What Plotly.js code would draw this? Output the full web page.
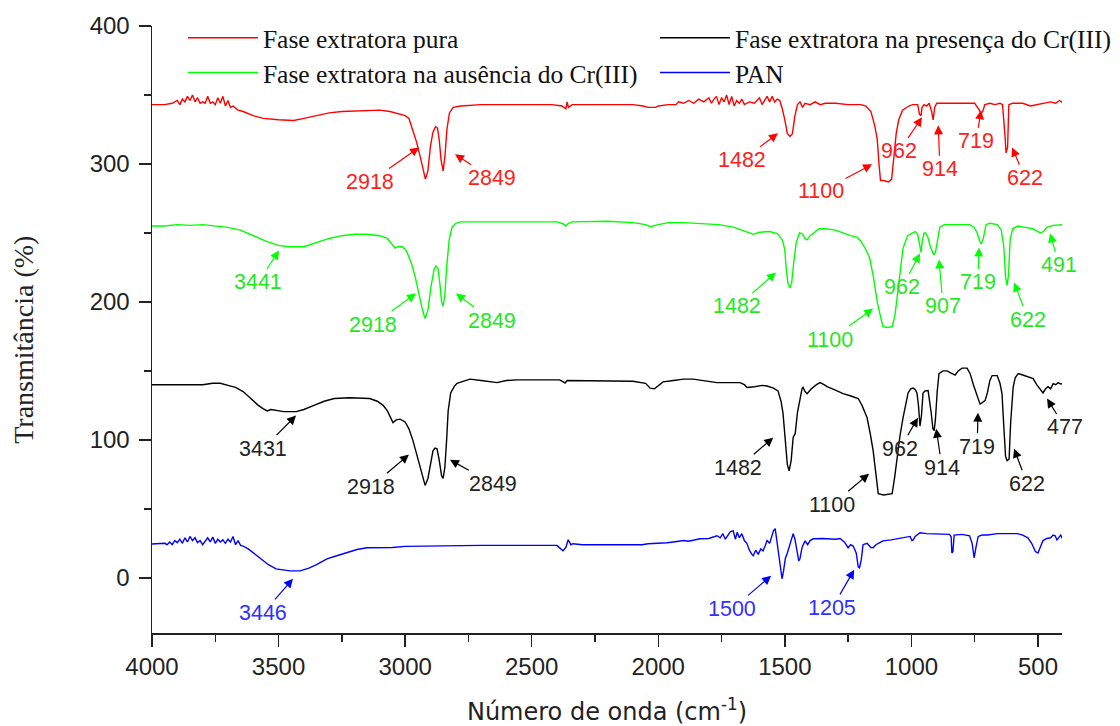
<!DOCTYPE html>
<html><head><meta charset="utf-8">
<script src="https://cdn.plot.ly/plotly-3.0.1.min.js"></script>
<style>html,body{margin:0;padding:0;background:#fff}#chart{width:1120px;height:726px}</style>
</head><body><div id="chart"></div>
<script>
// ---------- DATA ----------
const xTickVals = [4000, 3500, 3000, 2500, 2000, 1500, 1000, 500];
const yTickVals = [0, 100, 200, 300, 400];
const seriesNames = [
  'Fase extratora pura',
  'Fase extratora na presença do Cr(III)',
  'Fase extratora na ausência do Cr(III)',
  'PAN'
];
const xTitle = 'Número de onda (cm<sup>-1</sup>)';
const yTitle = 'Transmitância (%)';
// [wavenumber cm-1, transmittance %]
const redSpectrum = [[4000,343],[3950,343],[3920,344],[3900,346],[3890,343],[3880,347],[3870,345],[3860,349],[3850,346],[3840,350],[3830,345],[3820,348],[3810,344],[3800,345],[3790,344],[3780,349],[3770,344],[3760,345],[3750,343],[3740,348],[3730,344],[3720,349],[3710,342],[3700,346],[3690,341],[3680,342],[3660,339],[3640,338],[3600,335],[3560,333],[3500,332],[3440,331.5],[3400,333],[3350,335],[3300,337],[3250,338],[3200,338.5],[3150,339],[3100,339],[3060,338],[3040,337],[3020,336],[3000,335],[2985,333],[2970,325],[2955,316],[2940,305],[2930,296],[2920,289],[2910,295],[2900,313],[2890,323],[2880,327],[2872,326],[2865,317],[2858,303],[2850,295],[2843,305],[2835,325],[2825,337],[2810,341],[2780,342],[2700,343],[2600,343],[2500,343],[2420,343],[2380,342],[2365,340],[2360,345],[2355,341],[2340,343],[2200,343],[2100,343],[2060,342],[2040,341],[2010,341],[2000,342],[1960,343],[1930,343],[1920,345],[1900,344],[1880,346],[1860,344],[1840,347],[1820,345],[1800,348],[1790,344],[1780,347],[1770,349],[1760,343],[1750,348],[1740,345],[1730,350],[1720,343],[1710,349],[1700,342],[1690,346],[1680,344],[1670,347],[1660,343],[1640,345],[1620,344],[1600,348],[1590,343],[1570,349],[1560,345],[1550,349],[1540,345],[1530,347],[1520,346],[1510,340],[1500,332],[1490,322],[1480,320],[1470,322],[1460,335],[1450,343],[1440,345],[1430,341],[1420,344],[1400,343],[1380,345],[1360,343],[1340,344],[1300,344],[1250,343],[1200,343],[1180,342],[1160,338],[1145,328],[1135,318],[1128,300],[1122,288],[1110,288],[1090,287],[1078,289],[1070,305],[1060,322],[1050,332],[1035,339],[1010,342],[995,343],[975,343],[968,336],[962,335],[958,341],[950,343],[940,342],[930,344],[920,338],[914,332],[908,341],[900,344],[850,344],[800,344],[750,344],[735,340],[725,337],[718,338],[710,343],[690,344],[670,343],[650,344],[640,343],[630,320],[626,308],[620,312],[615,343],[600,344],[560,344],[530,342],[500,343],[470,344],[450,345],[430,344],[415,346],[400,344]];

const blackSpectrum = [[4000,140],[3900,140],[3850,140.5],[3800,140],[3760,141],[3730,141],[3700,139.5],[3670,138],[3640,135],[3610,130],[3580,125],[3560,122.5],[3545,121],[3530,122],[3510,121.5],[3480,120.5],[3430,120.5],[3400,122],[3360,125],[3320,128],[3280,130],[3220,130.5],[3140,130],[3110,128],[3087,125],[3070,121],[3048,112.5],[3035,114.5],[3020,115],[3000,113],[2985,108],[2970,100],[2955,90],[2940,80],[2928,70],[2921,67],[2910,72],[2898,84],[2890,92],[2882,94],[2874,93.5],[2866,86],[2856,74],[2850,72],[2843,80],[2836,100],[2830,121],[2820,134],[2805,139],[2795,141],[2760,143],[2744,144],[2700,143],[2637,141.5],[2600,143],[2560,143.5],[2450,143.5],[2390,143.5],[2375,142],[2368,141.2],[2360,143],[2300,143],[2200,143],[2100,142.5],[2050,141],[2032,137.5],[2015,137],[2000,139],[1981,142],[1940,143],[1900,144],[1862,144],[1820,143],[1768,141.5],[1700,141.5],[1677,141.5],[1660,140],[1649,138],[1620,138.5],[1590,139.5],[1570,139],[1545,137.5],[1527,135.5],[1515,128],[1507,119],[1498,100],[1490,82],[1483,77.6],[1475,85],[1467,102],[1459,104.5],[1450,120],[1440,130.6],[1432,137],[1428,138],[1420,135],[1412,133.5],[1395,137],[1375,140],[1361,141.5],[1345,140],[1333,138.6],[1300,136],[1270,133.5],[1242,132],[1210,130],[1195,125],[1175,116],[1162,104],[1151,92],[1140,75],[1131,61],[1110,60],[1090,60.5],[1076,61],[1066,73],[1057,87],[1045,103],[1033,116],[1020,128],[1013,134],[1003,137],[993,137.5],[985,136.5],[978,134],[972,125],[966,110],[960,118],[954,134],[946,135.5],[934,135.7],[922,120],[915,108],[910,106.7],[905,115],[898,135],[891,148],[875,150],[859,150],[845,148.5],[827,147],[815,150],[800,152],[780,152],[768,148],[755,140],[740,132],[729,126],[720,127],[709,128.4],[700,134],[690,143],[681,146.6],[661,146.6],[650,141],[642,133.5],[635,110],[628,88],[622,85],[614,86],[608,112],[598,138],[590,145],[578,148],[560,147],[540,145.5],[519,144.4],[505,140],[490,136],[480,134],[470,137],[460,138.5],[450,137],[440,140.8],[430,140],[420,141.5],[410,140.5],[400,140.8]];

const greenSpectrum = [[4000,255],[3950,255],[3900,256],[3850,255.5],[3800,256],[3750,255],[3700,254],[3650,252],[3600,248],[3550,244],[3500,241],[3460,240],[3400,240],[3350,243],[3300,246],[3250,248],[3200,249],[3150,249],[3100,248],[3070,246],[3050,241],[3040,239],[3030,240],[3010,240],[2995,237],[2975,228],[2960,218],[2945,205],[2930,193],[2921,188],[2910,194],[2898,211],[2885,224],[2878,226],[2870,224],[2862,212],[2856,200],[2850,197],[2843,205],[2836,225],[2826,245],[2815,254],[2800,257],[2780,258],[2700,258],[2600,258],[2500,258],[2400,258],[2375,256.5],[2365,255],[2355,257],[2340,258],[2200,258.5],[2100,257.5],[2050,256],[2030,254.5],[2000,256],[1960,257.5],[1900,257.5],[1850,257],[1800,256.5],[1760,256],[1700,254],[1660,251],[1640,250],[1625,249],[1600,250.5],[1560,251],[1530,249.5],[1510,245],[1500,238],[1495,225],[1488,214],[1480,210],[1473,214],[1465,228],[1455,243],[1442,250],[1432,249.5],[1420,246],[1412,245],[1400,248],[1385,250],[1365,253],[1340,253],[1300,252],[1270,250],[1240,248],[1215,247],[1200,244],[1180,238],[1165,232],[1150,218],[1135,200],[1124,191],[1112,182],[1095,181.5],[1076,182],[1065,190],[1057,203],[1045,220],[1033,239],[1015,248],[997,250],[985,251],[975,249],[968,243],[962,236],[957,244],[950,250],[944,250],[935,247],[925,240],[912,234],[905,236],[897,245],[888,254],[870,256],[850,256],[820,256],[800,255.5],[770,256],[752,254],[740,250],[730,244],[724,242],[716,246],[705,256],[690,257],[660,256],[645,252],[635,240],[628,218],[622,212],[616,220],[610,245],[600,253],[580,255],[550,254],[520,253],[500,251],[490,250],[478,251],[465,254],[440,255.5],[420,255.5],[400,256]];

const blueSpectrum = [[4000,24.5],[3960,24.5],[3950,25],[3940,24],[3930,26],[3920,24],[3910,27],[3900,25.5],[3890,28],[3880,25],[3870,29],[3860,26],[3850,30],[3840,27],[3830,29],[3820,25.5],[3810,27],[3800,24],[3790,27],[3780,29],[3770,26],[3760,29.5],[3750,25],[3740,28],[3730,26],[3720,27.5],[3710,25],[3700,28],[3690,26],[3680,30],[3670,24],[3660,27],[3650,23.5],[3640,23],[3620,21],[3600,18],[3580,15],[3560,12],[3540,9.5],[3510,6.5],[3480,5.5],[3455,5],[3415,5],[3380,7],[3350,9.5],[3309,13.8],[3270,16],[3230,18.5],[3190,20.5],[3151,21.8],[3100,22],[3050,22],[3000,22.8],[2950,23],[2890,23.2],[2850,23],[2800,23.5],[2700,23.5],[2600,23.5],[2500,23.5],[2400,23.5],[2385,21],[2376,19.6],[2365,22],[2356,27.6],[2345,24],[2337,24.7],[2300,24],[2230,24],[2150,24],[2064,24],[2040,24.7],[2000,25],[1965,25.4],[1940,26],[1920,26.5],[1900,27],[1880,26.5],[1860,27.5],[1835,28.3],[1800,28.5],[1780,30],[1768,30.5],[1755,29],[1745,32],[1735,28],[1725,31],[1715,33.5],[1704,34],[1695,28],[1688,33],[1680,29],[1670,32],[1660,27],[1650,25],[1640,20],[1630,17],[1625,16],[1615,20],[1605,17],[1595,21],[1586,19.6],[1578,23],[1570,27],[1560,25],[1550,30],[1545,34],[1538,35.6],[1530,25],[1520,10],[1511,-0.7],[1505,5],[1498,14],[1491,17.4],[1480,24],[1467,32],[1460,28],[1452,20],[1445,12.3],[1440,14],[1432,22],[1420,26.8],[1410,24],[1400,27],[1388,28.3],[1350,28.5],[1300,28],[1282,28.5],[1265,26],[1250,21.8],[1240,24],[1230,23],[1218,18],[1210,8],[1205,7.3],[1198,13],[1191,24],[1175,25],[1160,22],[1151,21.8],[1140,24],[1125,25.5],[1112,26.8],[1080,27.5],[1050,28.5],[1020,29.5],[1005,30],[998,27],[993,27.5],[985,30],[966,32.7],[940,32],[900,32],[887,32],[870,31.5],[850,31.5],[843,30],[840,18],[836,19],[831,31],[800,31.5],[780,31],[770,30.5],[760,25],[752,14.5],[745,22],[736,30],[720,31],[700,31],[660,32],[620,32],[582,32],[560,31],[540,29],[525,25],[519,22],[510,19],[500,18],[490,22],[480,27],[465,28.5],[450,29],[440,31],[432,30.5],[425,27.5],[418,29],[410,31],[405,29],[400,30]];

// peak labels: series, text, arrow tip [wn, T], label centre [wn, T]
const peakLabels = [
  ['red','2918',[2945,312],[3139,287]],
  ['red','2849',[2803,307],[2657,289.6]],
  ['red','1482',[1527,322.2],[1669,302.6]],
  ['red','1100',[1155,299.7],[1357,280.1]],
  ['red','962',[958,333.8],[1049,309.1]],
  ['red','914',[894,328],[887,296.1]],
  ['red','719',[725,338.9],[744,316.4]],
  ['red','622',[602,312],[551,289.6]],
  ['green','3441',[3498,237.3],[3581,214.1]],
  ['green','2918',[2957,206.1],[3127,183.6]],
  ['green','2849',[2799,206.1],[2657,186.5]],
  ['green','1482',[1535,221.3],[1689,196.7]],
  ['green','1100',[1151,195.2],[1321,172.7]],
  ['green','962',[966,235.1],[1037,210.5]],
  ['green','907',[891,230.8],[875,196.7]],
  ['green','719',[733,239.5],[737,214.1]],
  ['green','622',[594,214.1],[539,187.2]],
  ['green','491',[452,249.6],[416,226.4]],
  ['black','3431',[3431,117.6],[3561,93.6]],
  ['black','2918',[2985,89.3],[3135,66]],
  ['black','2849',[2823,85.6],[2653,68.2]],
  ['black','1482',[1546,101.6],[1685,79.8]],
  ['black','1100',[1167,75.5],[1313,53]],
  ['black','962',[974,116.1],[1045,93.6]],
  ['black','914',[902,108.1],[879,79.8]],
  ['black','719',[737,119.7],[740,95.1]],
  ['black','622',[594,93.6],[543,68.2]],
  ['black','477',[464,129.9],[393,109]],
  ['blue','3446',[3443,-0.7],[3561,-25.4]],
  ['blue','1500',[1554,1.5],[1708,-22.5]],
  ['blue','1205',[1226,5.8],[1313,-21.8]]
];

// ---------- STYLE ----------
const lineColors = {red:'#ff0000', black:'#000000', green:'#00ff00', blue:'#0000ff'};
const textColors = {red:'#ff2020', black:'#222222', green:'#1fe81f', blue:'#3030ff'};

function mk(spec, name, color, legendId) {
  return {
    type:'scatter', mode:'lines',
    x: spec.map(p => p[0]), y: spec.map(p => p[1]),
    name: name, legend: legendId,
    line:{color: color, width:1.4}
  };
}
const traces = [
  mk(redSpectrum, seriesNames[0], lineColors.red, 'legend'),
  mk(blackSpectrum, seriesNames[1], lineColors.black, 'legend2'),
  mk(greenSpectrum, seriesNames[2], lineColors.green, 'legend3'),
  mk(blueSpectrum, seriesNames[3], lineColors.blue, 'legend4')
];

const annotations = peakLabels.map(a => ({
  x: a[2][0], y: a[2][1], xref:'x', yref:'y',
  ax: a[3][0], ay: a[3][1], axref:'x', ayref:'y',
  text: a[1], showarrow: true,
  arrowhead: 2, arrowsize: 1.5, arrowwidth: 1.2,
  arrowcolor: lineColors[a[0]],
  font:{family:'Liberation Sans, Arial, sans-serif', size:21.5, color:textColors[a[0]]}
}));
annotations.push({
  xref:'paper', yref:'paper', x:-0.142, y:0.4827, xanchor:'center', yanchor:'middle',
  text:yTitle, textangle:-90, showarrow:false,
  font:{family:'Liberation Serif, Times New Roman, serif', size:28, color:'#222'}
});

const legendFont = {family:'Liberation Serif, Times New Roman, serif', size:25.5, color:'#111'};
function leg(x, y) {
  return {x:x, y:y, xanchor:'left', yanchor:'middle', bgcolor:'rgba(0,0,0,0)',
    borderwidth:0, font:legendFont, itemwidth:70, orientation:'v'};
}

const axisCommon = {
  showline:true, linewidth:1.5, linecolor:'#222', mirror:false,
  showgrid:false, zeroline:false, ticks:'outside', ticklen:12, tickwidth:1.5, tickcolor:'#222',
  tickfont:{family:'Liberation Sans, Arial, sans-serif', size:24, color:'#222'}
};

const layout = {
  width:1120, height:726,
  margin:{l:152, r:58, t:26, b:93, autoexpand:false},
  paper_bgcolor:'#fff', plot_bgcolor:'#fff',
  showlegend:true,
  xaxis: Object.assign({}, axisCommon, {
    range:[4000, 405], tickmode:'array', tickvals:xTickVals, ticktext:xTickVals.map(String),
    minor:{tickmode:'linear', tick0:0, dtick:250, ticks:'outside', ticklen:7, tickwidth:1.5, tickcolor:'#222', showgrid:false},
    title:{text:xTitle, standoff:28,
      font:{family:'DejaVu Sans, sans-serif', size:24, color:'#222'}}
  }),
  yaxis: Object.assign({}, axisCommon, {
    range:[-40, 400], tickmode:'array', tickvals:yTickVals, ticktext:yTickVals.map(String),
    ticklabelstandoff:4,
    minor:{tickmode:'linear', tick0:0, dtick:50, ticks:'outside', ticklen:7, tickwidth:1.5, tickcolor:'#222', showgrid:false}
  }),
  legend: leg(0.034, 0.980),
  legend2: leg(0.5527, 0.980),
  legend3: leg(0.034, 0.9226),
  legend4: leg(0.5527, 0.9226),
  annotations: annotations
};

Plotly.newPlot('chart', traces, layout, {displayModeBar:false, staticPlot:true});
</script></body></html>
